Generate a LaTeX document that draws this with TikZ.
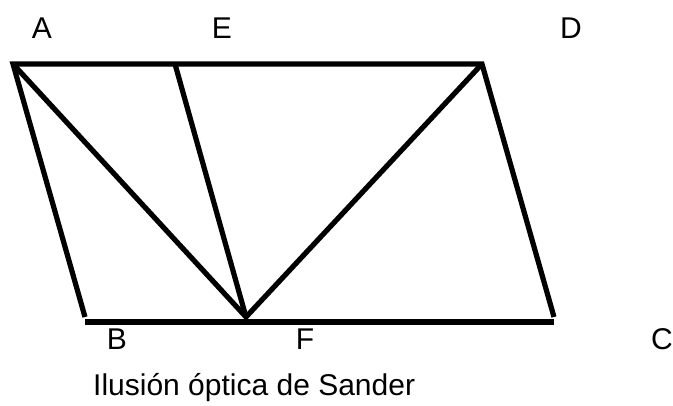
\documentclass[tikz,border=0pt]{standalone}
\usepackage{fontspec}
\setmainfont{Liberation Sans}
\usetikzlibrary{calc}
\tikzset{
  edgeK/.style={line width=5.2pt, black, line join=miter},
  lblK/.style={anchor=base, inner sep=0pt, font=\fontsize{30}{35}\selectfont},
}
\begin{document}
\begin{tikzpicture}[x=1pt, y=-1pt]
    \useasboundingbox (0,0) rectangle (673,406);
    \coordinate (A) at (13,64);  \coordinate (E) at (175,64);
    \coordinate (D) at (482,64); \coordinate (B) at (85,317);
    \coordinate (F) at (246,317); \coordinate (C) at (554,317);
    \coordinate (bl) at (85,322); \coordinate (br) at (554,322);
    \draw[edgeK] (B) -- (A) -- (D) -- (C);
    \draw[edgeK] (bl) -- (br);
    \draw[edgeK] (A) -- (F) -- (D); \draw[edgeK] (E) -- (F);
    \node[lblK] (labA) at (42,39)  {A};
    \node[lblK] (labE) at (222,39) {E};
    \node[lblK] (labD) at (571,39) {D};
    \node[lblK] (labB) at (117,350) {B};
    \node[lblK] (labF) at (305,350) {F};
    \node[lblK] (labC) at (662,350) {C};
    \node[lblK, anchor=base west] (caption) at (93,396) {Ilusión óptica de Sander};
  \end{tikzpicture}
\end{document}
